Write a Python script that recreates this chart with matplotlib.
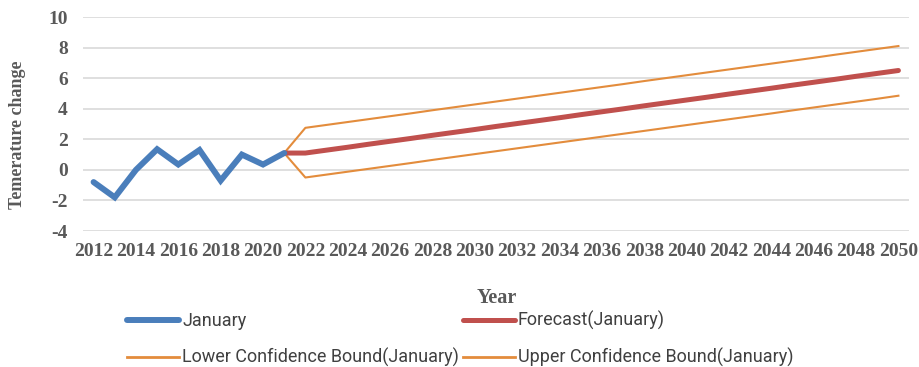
import numpy as np
import pandas as pd
import matplotlib
matplotlib.use("Agg")
import matplotlib.pyplot as plt
from matplotlib.lines import Line2D

plt.rcParams["axes.unicode_minus"] = False

# values (one per year, 2012..2050)
years = list(range(2012, 2051))

january = [-0.8, -1.8, 0.0, 1.35, 0.35, 1.3, -0.7, 1.0, 0.35, 1.1]  # 2012..2021

forecast = [1.10, 1.10, 1.29, 1.48, 1.68, 1.87, 2.06, 2.26, 2.45, 2.64,
            2.84, 3.03, 3.22, 3.41, 3.61, 3.80, 3.99, 4.19, 4.38, 4.57,
            4.76, 4.96, 5.15, 5.34, 5.54, 5.73, 5.92, 6.12, 6.31, 6.50]  # 2021..2050
upper = [1.10, 2.75, 2.94, 3.13, 3.32, 3.51, 3.70, 3.90, 4.09, 4.28,
         4.47, 4.66, 4.85, 5.04, 5.23, 5.42, 5.61, 5.81, 6.00, 6.19,
         6.38, 6.57, 6.76, 6.95, 7.14, 7.33, 7.53, 7.72, 7.91, 8.10]
lower = [1.10, -0.50, -0.31, -0.12, 0.07, 0.26, 0.45, 0.65, 0.84, 1.03,
         1.22, 1.41, 1.60, 1.79, 1.98, 2.17, 2.36, 2.55, 2.74, 2.93,
         3.12, 3.31, 3.50, 3.69, 3.89, 4.08, 4.27, 4.46, 4.65, 4.85]

yticks = [-4, -2, 0, 2, 4, 6, 8, 10]

blue = "#4A7EBB"
red = "#C0504D"
orange = "#E38C3C"
gray = "#595959"

x_hist = np.arange(len(january))
x_fc = np.arange(len(january) - 1, len(years))

fig = plt.figure(figsize=(9.2, 3.67), dpi=100)
ax = fig.add_axes([83 / 920, 1 - 231 / 367, 826 / 920, 214 / 367])

ax.plot(x_fc, lower, color=orange, lw=1.5, zorder=2)
ax.plot(x_fc, upper, color=orange, lw=1.5, zorder=2)
ax.plot(x_fc, forecast, color=red, lw=3.6, solid_capstyle="round", zorder=3)
ax.plot(x_hist, january, color=blue, lw=4.3, solid_capstyle="round",
        solid_joinstyle="miter", zorder=4)

ax.set_xlim(-0.5, len(years) - 0.5)
ax.set_ylim(-4, 10)
ax.set_yticks(yticks)
ax.set_xticks(np.arange(0, len(years), 2))
ax.set_xticklabels([str(y) for y in years[::2]])
ax.grid(axis="y", color="#D9D9D9", lw=1.2)
ax.set_axisbelow(True)
for s in ax.spines.values():
    s.set_visible(False)
ax.tick_params(length=0, colors=gray)
for lab in ax.get_xticklabels() + ax.get_yticklabels():
    lab.set_fontfamily("Liberation Serif")
    lab.set_fontweight("bold")
    lab.set_fontsize(14)
ax.tick_params(axis="x", pad=9)
ax.tick_params(axis="y", pad=11)

fig.text(18 / 920, 1 - 135 / 367, "Temerature change", rotation=90,
         ha="center", va="center", fontsize=13, fontweight="bold",
         family="Liberation Serif", color=gray)
fig.text(497 / 920, 1 - 298 / 367, "Year", ha="center", va="center",
         fontsize=14.5, fontweight="bold", family="Liberation Serif", color=gray)

handles = [Line2D([], [], color=blue, lw=4.3, solid_capstyle="round"),
           Line2D([], [], color=orange, lw=2),
           Line2D([], [], color=red, lw=3.6, solid_capstyle="round"),
           Line2D([], [], color=orange, lw=2)]
labels = ["January", "Lower Confidence Bound(January)",
          "Forecast(January)", "Upper Confidence Bound(January)"]
leg = fig.legend(handles, labels, ncol=2, loc="upper left",
                 bbox_to_anchor=(127 / 920, 1 - 311 / 367), frameon=False,
                 prop={"family": "Roboto", "size": 13},
                 handlelength=2.9, handletextpad=0.15, columnspacing=0.2,
                 labelspacing=1.0, borderaxespad=0, borderpad=0)
for t in leg.get_texts():
    t.set_color("#404040")

fig.savefig("out.png", dpi=100)
